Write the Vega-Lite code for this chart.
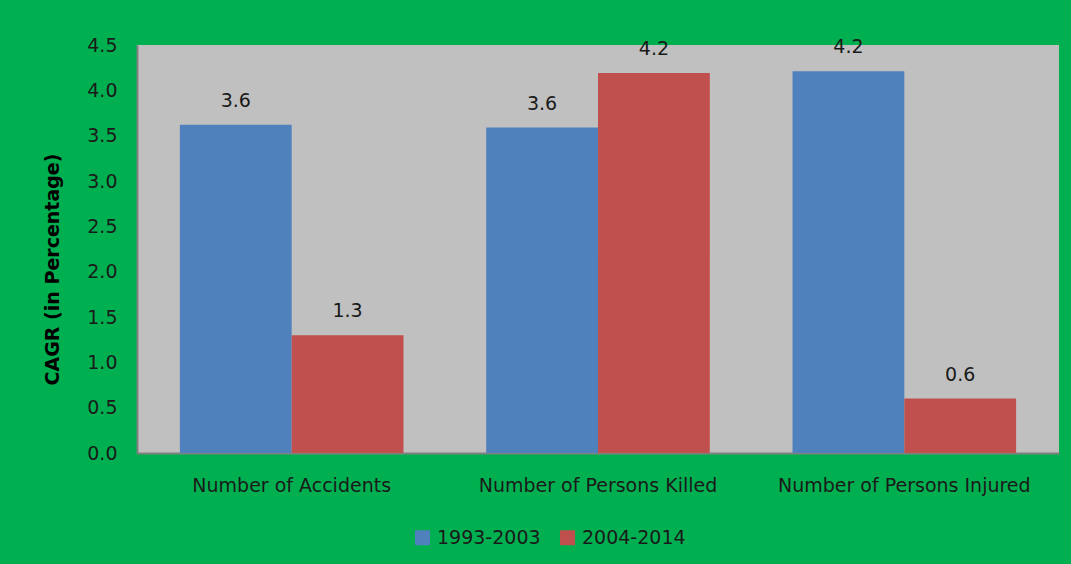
{
  "$schema": "https://vega.github.io/schema/vega-lite/v6.json",
  "width": 922,
  "height": 408,
  "autosize": {"type": "none"},
  "padding": {"left": 137, "top": 45, "right": 12, "bottom": 111},
  "background": "#00B050",
  "config": {
    "view": {"fill": "#C0C0C0", "stroke": null},
    "font": "DejaVu Sans"
  },
  "data": {
    "values": [
      {"category": "Number of Accidents", "period": "1993-2003", "value": 3.62},
      {"category": "Number of Accidents", "period": "2004-2014", "value": 1.3},
      {"category": "Number of Persons Killed", "period": "1993-2003", "value": 3.59},
      {"category": "Number of Persons Killed", "period": "2004-2014", "value": 4.19},
      {"category": "Number of Persons Injured", "period": "1993-2003", "value": 4.21},
      {"category": "Number of Persons Injured", "period": "2004-2014", "value": 0.6}
    ]
  },
  "encoding": {
    "x": {
      "field": "category",
      "type": "nominal",
      "sort": null,
      "scale": {"paddingInner": 0.27, "paddingOuter": 0.14},
      "axis": {
        "title": null,
        "labelAngle": 0,
        "labelFontSize": 19,
        "labelLimit": 0,
        "labelColor": "#1a1a1a",
        "labelPadding": 23,
        "ticks": false,
        "domainColor": "#808080",
        "domainWidth": 2
      }
    },
    "xOffset": {"field": "period", "type": "nominal"},
    "y": {
      "field": "value",
      "type": "quantitative",
      "scale": {"domain": [0, 4.5]},
      "axis": {
        "title": "CAGR (in Percentage)",
        "titleFontSize": 19,
        "titleFontWeight": "bold",
        "titleColor": "#000000",
        "titlePadding": 24,
        "titleY": 224,
        "values": [0, 0.5, 1, 1.5, 2, 2.5, 3, 3.5, 4, 4.5],
        "format": ".1f",
        "labelFontSize": 19,
        "labelColor": "#1a1a1a",
        "labelPadding": 20,
        "ticks": false,
        "grid": false,
        "domainColor": "#808080",
        "domainWidth": 2
      }
    }
  },
  "layer": [
    {
      "mark": {"type": "bar"},
      "encoding": {
        "color": {
          "field": "period",
          "type": "nominal",
          "scale": {"domain": ["1993-2003", "2004-2014"], "range": ["#4F81BD", "#C0504D"]},
          "legend": {
            "title": null,
            "orient": "none",
            "legendX": 276,
            "legendY": 483,
            "direction": "horizontal",
            "symbolType": "square",
            "symbolSize": 225,
            "symbolStrokeWidth": 0,
            "labelFontSize": 19,
            "labelOffset": 5,
            "labelColor": "#1a1a1a",
            "columnPadding": 17
          }
        }
      }
    },
    {
      "mark": {"type": "text", "baseline": "bottom", "dy": -14, "fontSize": 19, "color": "#1a1a1a"},
      "encoding": {
        "text": {"field": "value", "type": "quantitative", "format": ".1f"}
      }
    }
  ]
}
